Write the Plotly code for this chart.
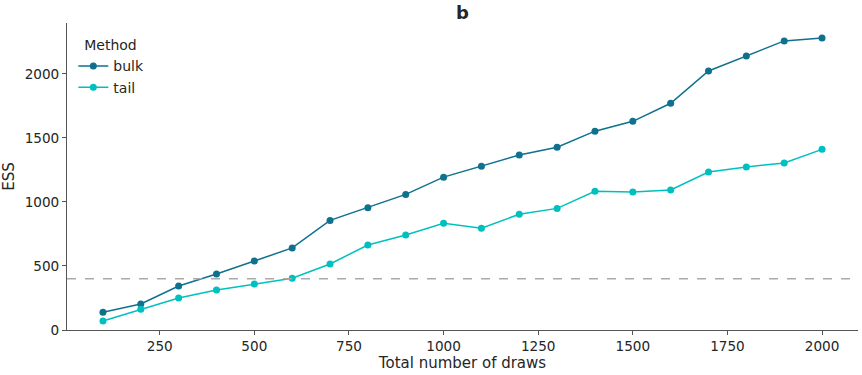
import plotly.graph_objects as go

draws = [100, 200, 300, 400, 500, 600, 700, 800, 900, 1000, 1100, 1200, 1300, 1400, 1500, 1600, 1700, 1800, 1900, 2000]
bulk = [139, 203, 344, 437, 539, 641, 856, 955, 1059, 1194, 1280, 1367, 1428, 1553, 1630, 1771, 2023, 2140, 2258, 2281]
tail = [70, 162, 250, 312, 359, 404, 516, 664, 742, 834, 795, 904, 950, 1083, 1078, 1094, 1234, 1273, 1305, 1411]
threshold = 400
xticks = [250, 500, 750, 1000, 1250, 1500, 1750, 2000]
yticks = [0, 500, 1000, 1500, 2000]

fig = go.Figure()
fig.add_trace(go.Scatter(x=draws, y=bulk, mode="lines+markers", name="bulk",
                         line=dict(color="#0f718e", width=1.5),
                         marker=dict(color="#0f718e", size=7)))
fig.add_trace(go.Scatter(x=draws, y=tail, mode="lines+markers", name="tail",
                         line=dict(color="#00c0bf", width=1.5),
                         marker=dict(color="#00c0bf", size=7)))
fig.add_hline(y=threshold, line=dict(color="#aaaaaa", width=1.5, dash="dash"))

fig.update_layout(
    width=862, height=375,
    margin=dict(l=67, r=4, t=23, b=45, autoexpand=False),
    paper_bgcolor="white", plot_bgcolor="white",
    font=dict(family="DejaVu Sans", size=14, color="#262626"),
    title=dict(text="<b>b</b>", x=0.5, xanchor="center", xref="paper", y=0.984, yanchor="top",
               font=dict(size=18, color="#262626")),
    legend=dict(title=dict(text="\u00a0\u00a0Method", font=dict(size=14)), x=0.008, y=0.97,
                xanchor="left", yanchor="top",
                bgcolor="rgba(255,255,255,0)", font=dict(size=14), tracegroupgap=0),
    showlegend=True,
)
fig.update_xaxes(range=[5, 2095], tickvals=xticks, showgrid=False, zeroline=False,
                 showline=True, linecolor="#555555", linewidth=1, automargin=False,
                 ticks="outside", ticklen=4, tickcolor="#555555", tickfont=dict(size=13.6),
                 title=dict(text="Total number of draws", standoff=3, font=dict(size=15)))
fig.update_yaxes(range=[0, 2398], tickvals=yticks, showgrid=False, zeroline=False,
                 showline=True, linecolor="#555555", linewidth=1, automargin=False,
                 ticks="outside", ticklen=4, tickcolor="#555555", tickfont=dict(size=13.6),
                 title=dict(text="ESS", standoff=6, font=dict(size=15)))

fig.write_html("out.html", config={"displayModeBar": False},
               post_script="document.body.style.margin='0';")
